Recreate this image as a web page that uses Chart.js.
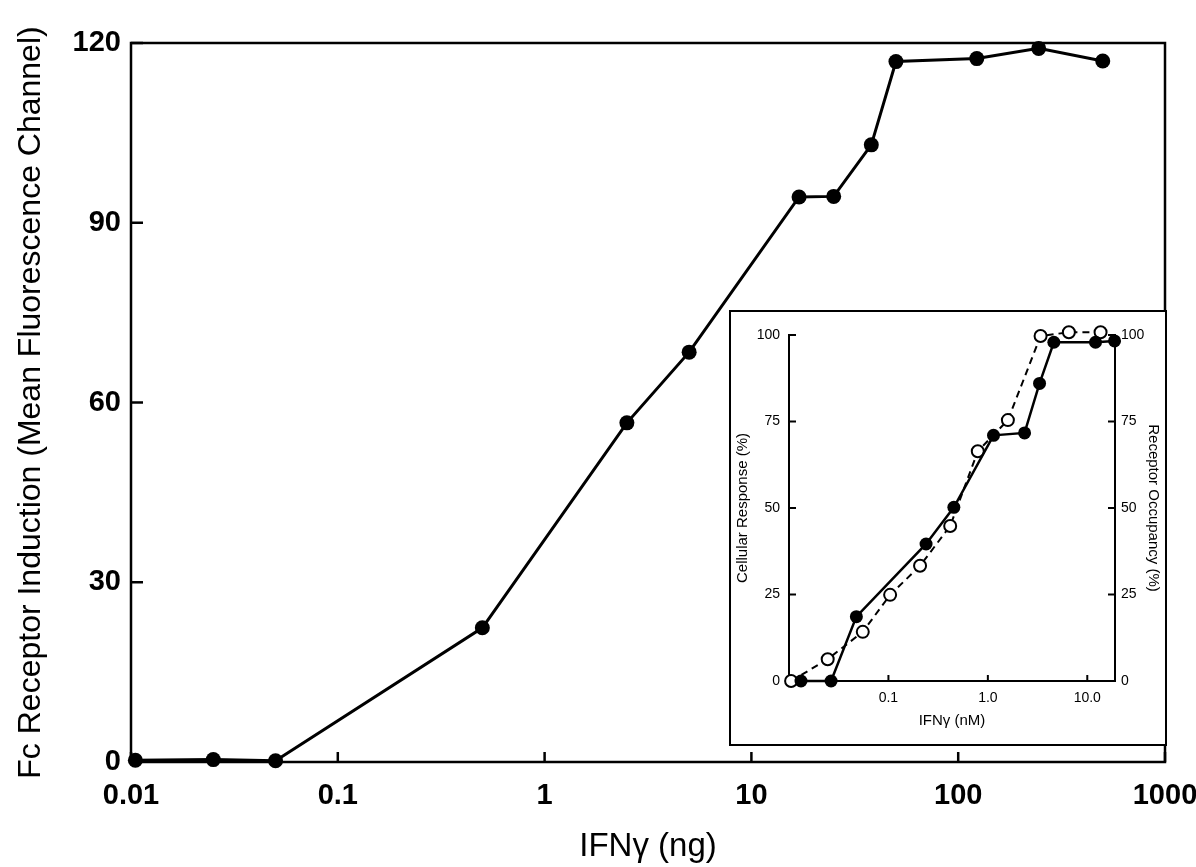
<!DOCTYPE html>
<html>
<head>
<meta charset="utf-8">
<script src="https://cdn.jsdelivr.net/npm/chart.js@4/dist/chart.umd.min.js"></script>
<style>
  html, body { margin: 0; padding: 0; background: #fff; }
  #wrap { position: relative; width: 1196px; height: 867px; }
  #mainChart { position: absolute; left: 0; top: 0; }
  #insetBox { position: absolute; left: 729px; top: 310px; width: 438px; height: 436px;
    border: 2px solid #000; box-sizing: border-box; background: #fff; }
  #insetChart { position: absolute; left: 0; top: 0; }
</style>
</head>
<body>
<div id="wrap">
  <canvas id="mainChart" width="1196" height="867"></canvas>
  <div id="insetBox"><canvas id="insetChart" width="434" height="432"></canvas></div>
</div>
<script>
// main plot: Fc receptor induction vs IFN-gamma dose (ng)
const doseNg = [0.0105, 0.025, 0.05, 0.5, 2.5, 5, 17, 25, 38, 50, 123, 245, 500];
const fcInduction = [0.3, 0.4, 0.2, 22.4, 56.6, 68.4, 94.3, 94.4, 103, 116.9, 117.4, 119.1, 117];
const mainXTicks = [0.01, 0.1, 1, 10, 100, 1000];
const mainYTicks = [0, 30, 60, 90, 120];

// inset: cellular response (filled) and receptor occupancy (open) vs IFN-gamma (nM)
const responseNm = [0.0132, 0.0265, 0.0476, 0.239, 0.455, 1.14, 2.34, 3.31, 4.61, 12.1, 18.8];
const cellResponse = [0, 0, 18.6, 39.6, 50.2, 71, 71.7, 86, 97.9, 97.9, 98.3];
const occupancyNm = [0.0105, 0.0245, 0.0552, 0.104, 0.208, 0.418, 0.792, 1.59, 3.39, 6.53, 13.6];
const occupancy = [0, 6.3, 14.2, 24.9, 33.3, 44.8, 66.4, 75.4, 99.7, 100.8, 100.8];
const insetXTicks = [0.1, 1, 10];
const insetXLabels = ['0.1', '1.0', '10.0'];
const insetYTicks = [0, 25, 50, 75, 100];

const FONT = "'Liberation Sans', Arial, sans-serif";

function toPoints(xs, ys) {
  return xs.map((x, i) => ({ x: x, y: ys[i] }));
}

// ticks drawn into the plot instead of outwards
const inwardTicks = {
  id: 'inwardTicks',
  afterDraw(chart, args, opts) {
    const ctx = chart.ctx;
    const area = chart.chartArea;
    ctx.save();
    ctx.strokeStyle = '#000';
    ctx.lineWidth = opts.width || 2;
    Object.values(chart.scales).forEach(scale => {
      const len = (opts.len || {})[scale.id];
      if (!len) return;
      scale.ticks.forEach(t => {
        if (t.value === 0) return;
        const p = scale.getPixelForValue(t.value);
        ctx.beginPath();
        if (scale.position === 'bottom') {
          ctx.moveTo(p, area.bottom); ctx.lineTo(p, area.bottom - len);
        } else if (scale.position === 'left') {
          ctx.moveTo(area.left, p); ctx.lineTo(area.left + len, p);
        } else if (scale.position === 'right') {
          ctx.moveTo(area.right, p); ctx.lineTo(area.right - len, p);
        }
        ctx.stroke();
      });
    });
    if (opts.frame) {
      ctx.lineWidth = opts.frame;
      ctx.strokeRect(area.left, area.top, area.right - area.left, area.bottom - area.top);
    }
    ctx.restore();
  }
};

function fixBox(w, h) {
  return scale => {
    if (w !== undefined) scale.width = w;
    if (h !== undefined) scale.height = h;
    scale.paddingLeft = 0; scale.paddingRight = 0;
    scale.paddingTop = 0; scale.paddingBottom = 0;
  };
}

new Chart(document.getElementById('mainChart'), {
  type: 'line',
  data: {
    datasets: [{
      data: toPoints(doseNg, fcInduction),
      borderColor: '#000',
      backgroundColor: '#000',
      borderWidth: 3,
      pointRadius: 7.5,
      pointBorderWidth: 0,
      tension: 0,
      clip: false
    }]
  },
  options: {
    responsive: false,
    animation: false,
    layout: { padding: { top: 43, right: 31, left: 0, bottom: 0 } },
    plugins: {
      legend: { display: false },
      tooltip: { enabled: false },
      inwardTicks: { len: { x: 10, y: 12 }, width: 2.5, frame: 2.5 }
    },
    scales: {
      x: {
        type: 'logarithmic',
        min: 0.01,
        max: 1000,
        afterBuildTicks: s => { s.ticks = mainXTicks.map(v => ({ value: v })); },
        afterFit: fixBox(undefined, 105),
        grid: { display: false, drawTicks: false },
        border: { display: false },
        ticks: {
          color: '#000',
          font: { family: FONT, size: 29, weight: 'bold' },
          padding: 17,
          maxRotation: 0,
          autoSkip: false,
          callback: v => String(v)
        },
        title: {
          display: true,
          text: 'IFNγ (ng)',
          color: '#000',
          font: { family: FONT, size: 33 },
          padding: { top: 0, bottom: 0 }
        }
      },
      y: {
        min: 0,
        max: 120,
        afterBuildTicks: s => { s.ticks = mainYTicks.map(v => ({ value: v })); },
        afterFit: fixBox(131),
        grid: { display: false, drawTicks: false },
        border: { display: false },
        ticks: {
          color: '#000',
          font: { family: FONT, size: 29, weight: 'bold' },
          padding: 10
        },
        title: {
          display: true,
          text: 'Fc Receptor Induction (Mean Fluorescence Channel)',
          color: '#000',
          font: { family: FONT, size: 32 },
          padding: { top: 12, bottom: 0 }
        }
      }
    }
  },
  plugins: [inwardTicks]
});

new Chart(document.getElementById('insetChart'), {
  type: 'line',
  data: {
    datasets: [{
      label: 'Cellular Response',
      data: toPoints(responseNm, cellResponse),
      yAxisID: 'y',
      borderColor: '#000',
      backgroundColor: '#000',
      borderWidth: 2.5,
      pointRadius: 6.5,
      pointBorderWidth: 0,
      tension: 0,
      clip: false
    }, {
      label: 'Receptor Occupancy',
      data: toPoints(occupancyNm, occupancy),
      yAxisID: 'y2',
      borderColor: '#000',
      backgroundColor: '#fff',
      borderWidth: 2,
      borderDash: [7, 5],
      pointRadius: 6,
      pointBorderWidth: 2,
      pointBorderColor: '#000',
      pointBackgroundColor: '#fff',
      tension: 0,
      clip: false
    }]
  },
  options: {
    responsive: false,
    animation: false,
    layout: { padding: { top: 23, right: 0, left: 0, bottom: 0 } },
    plugins: {
      legend: { display: false },
      tooltip: { enabled: false },
      inwardTicks: { len: { x: 6, y: 7, y2: 7 }, width: 2 }
    },
    scales: {
      x: {
        type: 'logarithmic',
        min: 0.01,
        max: 19,
        afterBuildTicks: s => { s.ticks = insetXTicks.map(v => ({ value: v })); },
        afterFit: fixBox(undefined, 63),
        grid: { display: false, drawTicks: false },
        border: { display: true, color: '#000', width: 2 },
        ticks: {
          color: '#000',
          font: { family: FONT, size: 14 },
          padding: 9,
          maxRotation: 0,
          autoSkip: false,
          callback: (v, i) => insetXLabels[i]
        },
        title: {
          display: true,
          text: 'IFNγ (nM)',
          color: '#000',
          font: { family: FONT, size: 15 },
          padding: { top: 0, bottom: 14 }
        }
      },
      y: {
        position: 'left',
        min: 0,
        max: 100,
        afterBuildTicks: s => { s.ticks = insetYTicks.map(v => ({ value: v })); },
        afterFit: fixBox(58),
        grid: { display: false, drawTicks: false },
        border: { display: true, color: '#000', width: 2 },
        ticks: { color: '#000', font: { family: FONT, size: 14 }, padding: 9 },
        title: {
          display: true,
          text: 'Cellular Response (%)',
          color: '#000',
          font: { family: FONT, size: 15 },
          padding: { top: 3, bottom: 0 }
        }
      },
      y2: {
        position: 'right',
        min: 0,
        max: 100,
        afterBuildTicks: s => { s.ticks = insetYTicks.map(v => ({ value: v })); },
        afterFit: fixBox(50),
        grid: { display: false, drawTicks: false },
        border: { display: true, color: '#000', width: 2 },
        ticks: { color: '#000', font: { family: FONT, size: 14 }, padding: 6 },
        title: {
          display: true,
          text: 'Receptor Occupancy (%)',
          color: '#000',
          font: { family: FONT, size: 15 },
          padding: { top: 3, bottom: 0 }
        }
      }
    }
  },
  plugins: [inwardTicks]
});
</script>
</body>
</html>
